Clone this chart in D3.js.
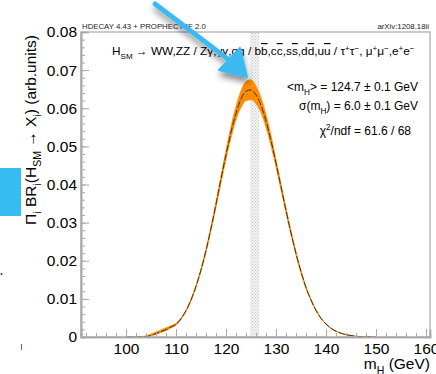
<!DOCTYPE html>
<html><head><meta charset="utf-8">
<script src="https://cdn.jsdelivr.net/npm/d3@7"></script>
<style>
body{margin:0;background:#fff}
svg{display:block;font-family:"Liberation Sans",Arial,Helvetica,sans-serif}
</style>
</head><body>
<svg id="c" width="436" height="374"></svg>
<script>
// ---- data ----
const massGeV = [100,102,104,105,106,107,108,109,110,111,112,113,114,115,116,117,118,119,120,121,122,123,124,125,126,127,128,129,130,131,132,133,134,135,136,137,138,139,140,141,142,143,144,145,146,147,148,150];
const central = [0,0,0.0001,0.0004,0.0009,0.0014,0.0019,0.0026,0.0033,0.0048,0.0069,0.0097,0.0133,0.0176,0.0227,0.0285,0.0348,0.0414,0.0478,0.0537,0.0587,0.0624,0.0645,0.0648,0.0635,0.0608,0.0567,0.0515,0.0456,0.0394,0.0332,0.0273,0.0219,0.0171,0.0130,0.0097,0.0070,0.0049,0.0034,0.0023,0.0015,0.0010,0.0006,0.0004,0.0002,0.0001,0.0001,0];
const bandHigh = [0,0,0.0003,0.0008,0.0013,0.0019,0.0024,0.0030,0.0036,0.0050,0.0071,0.0100,0.0136,0.0180,0.0232,0.0291,0.0356,0.0424,0.0490,0.0552,0.0605,0.0646,0.0670,0.0675,0.0658,0.0628,0.0584,0.0529,0.0466,0.0402,0.0339,0.0279,0.0224,0.0175,0.0133,0.0099,0.0072,0.0050,0.0035,0.0024,0.0016,0.0010,0.0006,0.0004,0.0002,0.0001,0.0001,0];
const bandLow  = [0,0,0,0.0003,0.0007,0.0012,0.0017,0.0024,0.0031,0.0046,0.0067,0.0094,0.0130,0.0172,0.0222,0.0279,0.0340,0.0404,0.0466,0.0522,0.0569,0.0602,0.0620,0.0622,0.0612,0.0588,0.0550,0.0501,0.0446,0.0386,0.0325,0.0267,0.0214,0.0167,0.0127,0.0095,0.0068,0.0048,0.0033,0.0022,0.0014,0.0010,0.0006,0.0004,0.0002,0.0001,0.0001,0];
const xTicks = [100,110,120,130,140,150,160];
const xTickLabels = ["100","110","120","130","140","150","160"];
const yTicks = [0,0.01,0.02,0.03,0.04,0.05,0.06,0.07,0.08];
const yTickLabels = ["0","0.01","0.02","0.03","0.04","0.05","0.06","0.07","0.08"];
const massBand = [124.8,126.6];

// ---- layout ----
const svg = d3.select("#c");
const L=81,R=430,T=32,B=337;
const x = d3.scaleLinear().domain([91,160.8]).range([L,R]);
const y = d3.scaleLinear().domain([0,0.08]).range([B,T]);
const data = massGeV.map((m,i)=>({m, c:central[i], lo:bandLow[i], hi:bandHigh[i]}));

const defs = svg.append("defs");
const pat = defs.append("pattern").attr("id","hatch").attr("patternUnits","userSpaceOnUse").attr("width",3).attr("height",3);
pat.append("rect").attr("width",3).attr("height",3).attr("fill","#f3f3f3");
pat.append("rect").attr("x",0).attr("y",0).attr("width",1).attr("height",1).attr("fill","#c8c8c8");
pat.append("rect").attr("x",1.5).attr("y",1.5).attr("width",1).attr("height",1).attr("fill","#c8c8c8");
const f = defs.append("filter").attr("id","shadow").attr("x","-50%").attr("y","-50%").attr("width","200%").attr("height","200%");
f.append("feDropShadow").attr("dx",1).attr("dy",5).attr("stdDeviation",3).attr("flood-color","#000").attr("flood-opacity",0.45);

// hatched mass band
svg.append("rect").attr("x",x(massBand[0])).attr("y",T).attr("width",x(massBand[1])-x(massBand[0])).attr("height",B-T).attr("fill","url(#hatch)");

// orange band
svg.append("path").datum(data)
  .attr("d", d3.area().x(d=>x(d.m)).y0(d=>y(d.lo)).y1(d=>y(d.hi)).curve(d3.curveMonotoneX))
  .attr("fill","#ff8c00").attr("stroke","#ff8c00").attr("stroke-width",0.7);
// central line
svg.append("path").datum(data)
  .attr("d", d3.line().x(d=>x(d.m)).y(d=>y(d.c)).curve(d3.curveMonotoneX))
  .attr("fill","none").attr("stroke","#2a2a2a").attr("stroke-width",0.9).attr("stroke-dasharray","7,2");

// frame
svg.append("rect").attr("x",L).attr("y",T).attr("width",R-L).attr("height",B-T).attr("fill","none").attr("stroke","#999").attr("stroke-width",1);

const gray="#a8a8a8";
// y axis
const yMinor = d3.range(0,0.0801,0.002);
const gyMinor = svg.append("g").attr("transform",`translate(${L},0)`)
  .call(d3.axisLeft(y).tickValues(yMinor).tickSize(-4).tickFormat(""));
const gy = svg.append("g").attr("transform",`translate(${L},0)`)
  .call(d3.axisLeft(y).tickValues(yTicks).tickSize(-8).tickPadding(4).tickFormat((d,i)=>yTickLabels[i]));
// x axis
const xMinor = d3.range(92,161,2);
const gxMinor = svg.append("g").attr("transform",`translate(0,${B})`)
  .call(d3.axisBottom(x).tickValues(xMinor).tickSize(-4).tickFormat(""));
const gx = svg.append("g").attr("transform",`translate(0,${B})`)
  .call(d3.axisBottom(x).tickValues(xTicks).tickSize(-8).tickPadding(6).tickFormat((d,i)=>xTickLabels[i]));
[gy,gyMinor,gx,gxMinor].forEach(g=>{
  g.selectAll(".domain").attr("stroke",gray).attr("stroke-width",1.6);
  g.selectAll(".tick line").attr("stroke",gray).attr("stroke-width",1);
  g.selectAll("text").attr("fill","#000").attr("font-size",15.5).attr("font-family","'Liberation Sans',Arial,sans-serif");
});

// rich text helper
function rich(parent, segs, size){
  let shift=0;
  segs.forEach(s=>{
    const sp = parent.append("tspan");
    let target=0, fs=size;
    if(s.sub){target=size*0.3; fs=size*0.68;}
    if(s.sup){target=-size*0.38; fs=size*0.68;}
    sp.attr("dy", target-shift).attr("font-size",fs);
    if(s.over) sp.attr("text-decoration","overline");
    shift=target;
    sp.text(s.t);
  });
}

// top labels
svg.append("text").attr("x",82).attr("y",29).attr("font-size",7.8).attr("fill","#222").text("HDECAY 4.43 + PROPHECY4F 2.0");
svg.append("text").attr("x",429).attr("y",29).attr("text-anchor","end").attr("font-size",7.8).attr("fill","#222").text("arXiv:1208.18ii");

// decay text
const decay = svg.append("text").attr("x",112).attr("y",55).attr("font-size",11.5);
rich(decay,[{t:"H"},{t:"SM",sub:1},{t:" \u2192 WW,ZZ / Z\u03b3,\u03b3\u03b3,gg / b"},{t:"b",over:1},{t:",c"},{t:"c",over:1},{t:",s"},{t:"s",over:1},{t:",d"},{t:"d",over:1},{t:",u"},{t:"u",over:1},{t:" / \u03c4"},{t:"+",sup:1},{t:"\u03c4"},{t:"\u2212",sup:1},{t:", \u03bc"},{t:"+",sup:1},{t:"\u03bc"},{t:"\u2212",sup:1},{t:",e"},{t:"+",sup:1},{t:"e"},{t:"\u2212",sup:1}],11.5);
{
  const w = decay.node().getBBox().width;
  const k = 303/w;
  decay.selectAll("tspan").each(function(){const t=d3.select(this); t.attr("font-size",+t.attr("font-size")*k); t.attr("dy",+t.attr("dy")*k);});
}

// stats
const s1 = svg.append("text").attr("x",418).attr("y",91).attr("text-anchor","end");
rich(s1,[{t:"<m"},{t:"H",sub:1},{t:"> = 124.7 \u00b1  0.1 GeV"}],12);
const s2 = svg.append("text").attr("x",418).attr("y",110).attr("text-anchor","end");
rich(s2,[{t:"\u03c3(m"},{t:"H",sub:1},{t:") = 6.0 \u00b1 0.1 GeV"}],12);
const s3 = svg.append("text").attr("x",411).attr("y",135).attr("text-anchor","end");
rich(s3,[{t:"\u03c7"},{t:"2",sup:1},{t:"/ndf = 61.6 / 68"}],12);

// axis titles
const xt = svg.append("text").attr("x",430).attr("y",369).attr("text-anchor","end");
rich(xt,[{t:"m"},{t:"H",sub:1},{t:" (GeV)"}],15.5);
const yt = svg.append("text").attr("transform","translate(36,35) rotate(-90)").attr("text-anchor","end");
rich(yt,[{t:"\u03a0"},{t:"i",sub:1},{t:" BR"},{t:"i",sub:1},{t:"(H"},{t:"SM",sub:1},{t:" \u2192 X"},{t:"i",sub:1},{t:") (arb.units)"}],15.5);

// overlay annotations (blue)
svg.append("rect").attr("x",0).attr("y",168).attr("width",21).attr("height",48).attr("fill","#35bdf2");
svg.append("circle").attr("cx",1.5).attr("cy",274).attr("r",1).attr("fill","#333");
svg.append("rect").attr("x",21).attr("y",344).attr("width",1).attr("height",6).attr("fill","#4a6a8a");
const arrow = svg.append("g").attr("filter","url(#shadow)");
arrow.append("line").attr("x1",155).attr("y1",4).attr("x2",233).attr("y2",63).attr("stroke","#3bb9f0").attr("stroke-width",5).attr("stroke-linecap","round");
arrow.append("path").attr("d","M247,77 L219,70 L240,48 Z").attr("fill","#3bb9f0").attr("stroke","#3bb9f0").attr("stroke-width",2).attr("stroke-linejoin","round");
</script>
</body></html>
